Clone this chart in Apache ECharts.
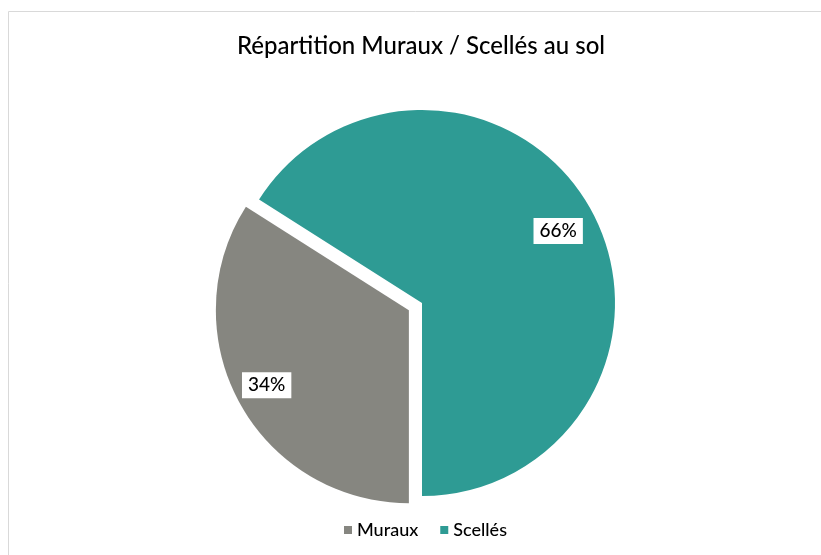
<!DOCTYPE html>
<html>
<head>
<meta charset="utf-8">
<script src="https://cdn.jsdelivr.net/npm/echarts@6/dist/echarts.min.js"></script>
<style>
  html, body { margin: 0; padding: 0; background: #fff; }
  #chart { width: 821px; height: 555px; }
</style>
</head>
<body>
<div id="chart"></div>
<script>
var categories = ['Muraux', 'Scellés'];
var values = [34, 66];
var colors = ['#868680', '#2e9b94'];

var chart = echarts.init(document.getElementById('chart'));

// offsets to push labels out toward the rim, like the original
var labelOffsets = [[-55, 27], [49, -24]];

var pieData = categories.map(function (name, i) {
    return {
        name: name,
        value: values[i],
        selected: i === 0,
        itemStyle: { color: colors[i] },
        label: { offset: labelOffsets[i] },
        select: { label: { offset: labelOffsets[i] } }
    };
});

var option = {
    animation: false,
    title: {
        text: 'Répartition Muraux / Scellés au sol',
        left: 416,
        top: 29,
        textAlign: 'center',
        textStyle: {
            fontFamily: 'Lato',
            fontWeight: 500,
            fontSize: 24,
            color: '#000'
        }
    },
    legend: {
        data: categories,
        bottom: 11,
        left: 339,
        itemWidth: 8,
        itemHeight: 8,
        itemGap: 22,
        icon: 'rect',
        selectedMode: false,
        textStyle: {
            fontFamily: 'Lato',
            fontWeight: 500,
            fontSize: 18,
            color: '#000'
        }
    },
    graphic: [{
        type: 'rect',
        shape: { x: 8.5, y: 11.5, width: 830, height: 560 },
        style: { fill: 'none', stroke: '#d9d9d9', lineWidth: 1 },
        silent: true
    }],
    series: [{
        type: 'pie',
        center: [422, 303],
        radius: 193,
        startAngle: -90,
        clockwise: true,
        selectedMode: 'single',
        selectedOffset: 15,
        data: pieData,
        itemStyle: { borderColor: '#fff', borderWidth: 0 },
        label: {
            position: 'inside',
            formatter: '{d}%',
            backgroundColor: '#fff',
            padding: [4, 6, 3, 6],
            color: '#000',
            fontFamily: 'Lato',
            fontWeight: 500,
            fontSize: 19
        },
        labelLine: { show: false },
        emphasis: { disabled: true }
    }]
};

chart.setOption(option);
</script>
</body>
</html>
